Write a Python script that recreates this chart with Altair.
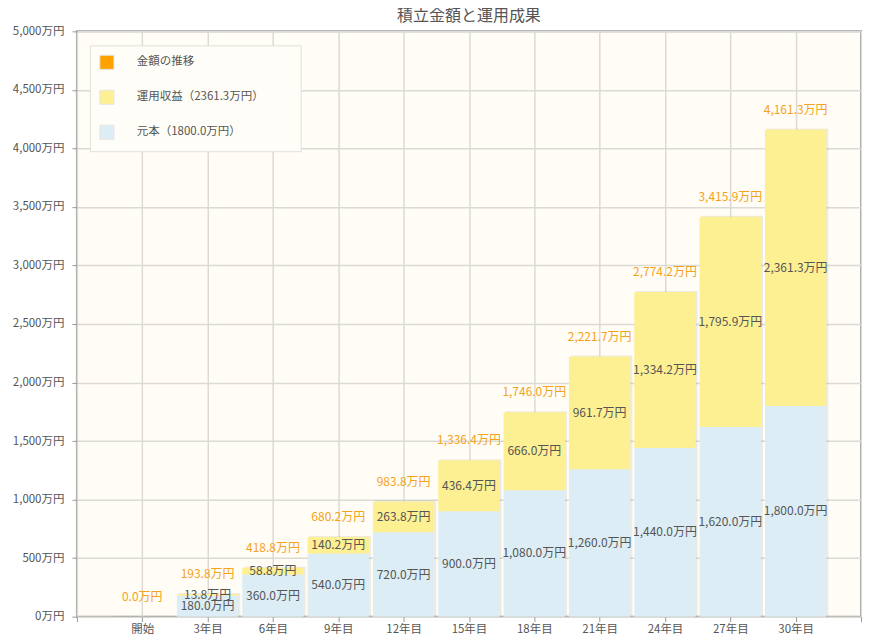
import altair as alt
import pandas as pd

categories = ["開始", "3年目", "6年目", "9年目", "12年目", "15年目", "18年目", "21年目", "24年目", "27年目", "30年目"]
principal = [0.0, 180.0, 360.0, 540.0, 720.0, 900.0, 1080.0, 1260.0, 1440.0, 1620.0, 1800.0]
profit = [0.0, 13.8, 58.8, 140.2, 263.8, 436.4, 666.0, 961.7, 1334.2, 1795.9, 2361.3]
total = [0.0, 193.8, 418.8, 680.2, 983.8, 1336.4, 1746.0, 2221.7, 2774.2, 3415.9, 4161.3]
y_ticks = list(range(0, 5001, 500))

S_TOTAL = "金額の推移"
S_PROFIT = "運用収益（2361.3万円）"
S_PRIN = "元本（1800.0万円）"
C_TOTAL = "#ffa200"
C_PROFIT = "#fdf093"
C_PRIN = "#ddedf5"

FONT = "Noto Sans CJK JP"
HW = 0.47

def fmt(v):
    return f"{v:,.1f}万円"

rows = []
for i, c in enumerate(categories):
    pos = i + 1
    rows.append(dict(cat=c, pos=pos, x0=pos - HW, x1=pos + HW, series=S_PRIN,
                     lo=0.0, hi=principal[i], mid=principal[i] / 2, label=fmt(principal[i]), show=principal[i] > 0))
    rows.append(dict(cat=c, pos=pos, x0=pos - HW, x1=pos + HW, series=S_PROFIT,
                     lo=principal[i], hi=total[i], mid=principal[i] + profit[i] / 2, label=fmt(profit[i]), show=profit[i] > 0))
df = pd.DataFrame(rows)
tot_df = pd.DataFrame({"pos": [i + 1 for i in range(len(categories))], "total": total,
                       "x0": [i + 1 - HW for i in range(len(categories))],
                       "x1": [i + 1 + HW for i in range(len(categories))],
                       "label": [fmt(t) for t in total]})

label_expr = "datum.value >= 1 && datum.value <= 11 ? " + str(categories) + "[datum.value - 1] : ''"

x_scale = alt.Scale(domain=[0, 12], nice=False, zero=False)
y_scale = alt.Scale(domain=[0, 5000], nice=False)

x_axis = alt.Axis(values=list(range(0, 13)), labelExpr=label_expr, title=None, grid=True,
                  gridColor="#dcdad4", gridWidth=1.5, domain=False, tickColor="#999", tickSize=5,
                  labelColor="#555", labelFont=FONT, labelFontSize=11.5, labelPadding=2)
y_axis = alt.Axis(values=y_ticks, labelExpr="format(datum.value, ',') + '万円'", title=None, grid=True,
                  gridColor="#dcdad4", gridWidth=1.5, domain=False, tickColor="#999", tickSize=5,
                  labelColor="#555", labelFont=FONT, labelFontSize=11.5, labelPadding=8)

color_scale = alt.Scale(domain=[S_TOTAL, S_PROFIT, S_PRIN], range=[C_TOTAL, C_PROFIT, C_PRIN])

shadow = alt.Chart(tot_df).mark_bar(color="#000", opacity=0.07, xOffset=2, x2Offset=2, yOffset=-1).encode(
    x=alt.X("x0:Q", scale=x_scale, axis=x_axis),
    x2="x1:Q",
    y=alt.Y("total:Q", scale=y_scale, axis=y_axis),
    y2=alt.datum(0),
)

bars = alt.Chart(df).mark_bar(cornerRadius=1).encode(
    x=alt.X("x0:Q", scale=x_scale, axis=x_axis),
    x2="x1:Q",
    y=alt.Y("lo:Q", scale=y_scale, axis=y_axis),
    y2="hi:Q",
    color=alt.Color("series:N", scale=color_scale,
                    legend=alt.Legend(title=None, orient="none", legendX=13, legendY=14,
                                      symbolType="square", symbolSize=200, symbolStrokeColor="#e6e6e6",
                                      symbolStrokeWidth=1, symbolOpacity=1,
                                      labelFont=FONT, labelFontSize=11.5, labelColor="#555",
                                      labelOffset=22, rowPadding=15, padding=9, labelLimit=300,
                                      labelExpr="datum.label + '\u2800\u2800\u2800'",
                                      fillColor="#fffdf7", strokeColor="#e2e0da")),
)

inner = alt.Chart(df).transform_filter("datum.show").mark_text(
    font=FONT, fontSize=12, color="#555", baseline="middle").encode(
    x=alt.X("pos:Q", scale=x_scale),
    y=alt.Y("mid:Q", scale=y_scale),
    text="label:N",
)

tot = alt.Chart(tot_df).mark_text(font=FONT, fontSize=12, color="#f5a21c", baseline="middle", dy=-20).encode(
    x=alt.X("pos:Q", scale=x_scale),
    y=alt.Y("total:Q", scale=y_scale),
    text="label:N",
)

chart = alt.layer(shadow, bars, inner, tot).properties(
    width=785, height=586,
    title=alt.TitleParams("積立金額と運用成果", font=FONT, fontSize=16, fontWeight="normal",
                          color="#555", anchor="middle", offset=1),
    padding={"left": 4, "top": 0, "right": 0, "bottom": 0},
).configure_view(fill="#fffdf6", stroke="#a0a0a0", strokeWidth=2)

chart.save("out.html", embed_options={"renderer": "svg", "actions": False})
